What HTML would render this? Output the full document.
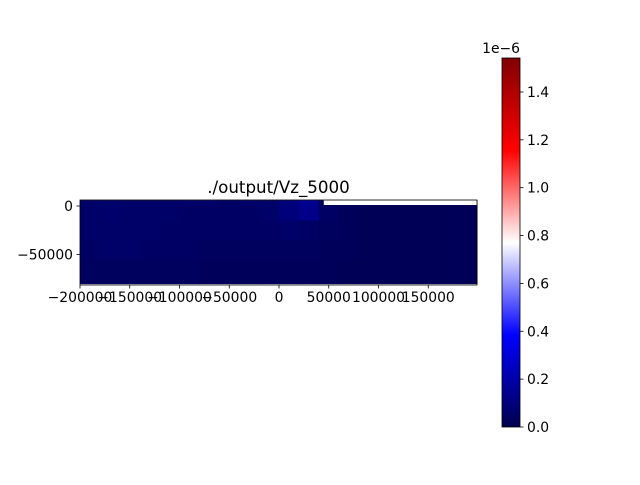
<!DOCTYPE html>
<html><head><meta charset="utf-8"><style>
body{margin:0;background:#fff;}
svg text{font-family:"DejaVu Sans","Liberation Sans",sans-serif;font-size:13.9px;fill:#000;}
</style></head><body>
<svg width="640" height="480" viewBox="0 0 640 480" xmlns="http://www.w3.org/2000/svg">
<defs>
<linearGradient id="seis" x1="0" y1="1" x2="0" y2="0">
<stop offset="0" stop-color="#00004d"/>
<stop offset="0.25" stop-color="#0000ff"/>
<stop offset="0.5" stop-color="#ffffff"/>
<stop offset="0.75" stop-color="#ff0000"/>
<stop offset="1" stop-color="#800000"/>
</linearGradient>
</defs>
<text x="278.5" y="193" text-anchor="middle" style="font-size:16.7px">./output/Vz_5000</text>
<g id="heat"></g>
<rect x="80" y="200" width="397" height="85" fill="none" stroke="#000" stroke-width="0.8"/>
<g id="xaxis"></g>
<g id="yaxis"></g>
<rect x="502" y="58" width="18" height="369" fill="url(#seis)" stroke="#000" stroke-width="0.8"/>
<g id="cbaxis"></g>
<text x="520" y="53" text-anchor="end">1e−6</text>
</svg>
<script>
const xTicks=[-200000,-150000,-100000,-50000,0,50000,100000,150000];
const yTicks=[0,-50000];
const cbTicks=[0,0.2,0.4,0.6,0.8,1.0,1.2,1.4];
const xEdges=[-200000,-180000,-160000,-140000,-120000,-100000,-80000,-60000,-40000,-20000,0,20000,40000,60000,80000,100000,120000,140000,160000,180000,199000];
const yEdges=[6000,0,-15000,-35000,-55000,-80000];
const cellValues=[
[0.06,0.07,0.06,0.06,0.06,0.06,0.06,0.05,0.06,0.06,0.1,0.14,0.04,0.02,0.02,0.02,0.02,0.02,0.02,0.02],
[0.06,0.07,0.06,0.06,0.06,0.05,0.05,0.05,0.05,0.06,0.1,0.13,0.05,0.03,0.02,0.02,0.02,0.02,0.02,0.02],
[0.06,0.06,0.06,0.06,0.05,0.05,0.05,0.05,0.05,0.05,0.06,0.05,0.04,0.03,0.02,0.02,0.02,0.02,0.02,0.02],
[0.05,0.06,0.06,0.05,0.05,0.05,0.04,0.04,0.04,0.04,0.04,0.04,0.03,0.03,0.02,0.02,0.02,0.02,0.02,0.02],
[0.04,0.04,0.04,0.04,0.04,0.04,0.03,0.03,0.03,0.03,0.03,0.03,0.03,0.02,0.02,0.02,0.02,0.02,0.02,0.02]];
const topoX=[45000,199000];
const vmin=0,vmax=1.542;
const X=v=>279+(v/200000)*199;
const Y=v=>206-(v/50000)*48.5;
const C=v=>427-(v-vmin)/(vmax-vmin)*369;
function seismic(t){t=Math.max(0,Math.min(1,t));
const s=[[0,[0,0,77]],[0.25,[0,0,255]],[0.5,[255,255,255]],[0.75,[255,0,0]],[1,[128,0,0]]];
for(let i=0;i<4;i++){const[a,ca]=s[i],[b,cb]=s[i+1];if(t<=b){const f=(t-a)/(b-a);return 'rgb('+ca.map((c,k)=>Math.round(c+(cb[k]-c)*f)).join(',')+')';}}}
const NS='http://www.w3.org/2000/svg';
function mk(tag,attrs,parent){const e=document.createElementNS(NS,tag);for(const k in attrs)e.setAttribute(k,attrs[k]);parent.appendChild(e);return e;}
const heat=document.getElementById('heat');
for(let r=0;r<cellValues.length;r++)for(let c=0;c<cellValues[r].length;c++){
const x0=X(xEdges[c]),x1=X(xEdges[c+1]),y0=Y(yEdges[r]),y1=Y(yEdges[r+1]);
const e=mk('rect',{x:x0,y:y0,width:x1-x0+0.5,height:y1-y0+0.5,fill:seismic(cellValues[r][c]/vmax)},heat);

}
const topo=mk('rect',{x:X(topoX[0]),y:Y(yEdges[0]),width:X(topoX[1])-X(topoX[0]),height:Y(0)-Y(yEdges[0])-1,fill:'#fff'},heat);


const xa=document.getElementById('xaxis');
xTicks.forEach(v=>{mk('line',{x1:X(v),x2:X(v),y1:285,y2:288.5,stroke:'#000','stroke-width':0.8},xa);
const t=mk('text',{x:X(v),y:302,'text-anchor':'middle'},xa);t.textContent=v===0?'0':(v<0?'−'+(-v):v);

});
const ya=document.getElementById('yaxis');
yTicks.forEach(v=>{mk('line',{x1:76.5,x2:80,y1:Y(v),y2:Y(v),stroke:'#000','stroke-width':0.8},ya);
const t=mk('text',{x:73,y:Y(v)+5,'text-anchor':'end'},ya);t.textContent=v===0?'0':'−'+(-v);

});
const cb=document.getElementById('cbaxis');
cbTicks.forEach(v=>{mk('line',{x1:520,x2:523.5,y1:C(v),y2:C(v),stroke:'#000','stroke-width':0.8},cb);
const t=mk('text',{x:527,y:C(v)+5},cb);t.textContent=v.toFixed(1);

});
</script>
</body></html>
